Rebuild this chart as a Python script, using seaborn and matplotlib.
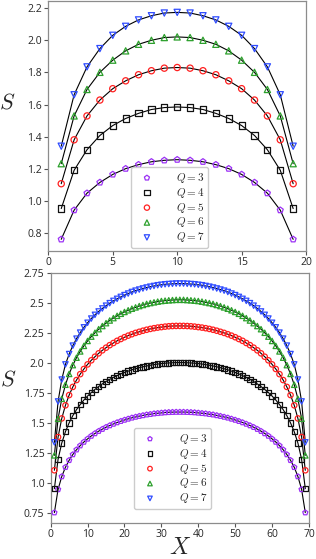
import pandas as pd
import matplotlib
matplotlib.use("Agg")
import matplotlib.pyplot as plt
import seaborn as sns

# ================================
# Data
# ================================
q_labels = [r"$Q=3$", r"$Q=4$", r"$Q=5$", r"$Q=6$", r"$Q=7$"]

# top panel: L = 20, X = 1..19
x_top = list(range(1, 20))
s_top_q3 = [0.759, 0.941, 1.047, 1.114, 1.164, 1.200, 1.225, 1.243, 1.252, 1.256,
            1.252, 1.243, 1.225, 1.200, 1.164, 1.114, 1.047, 0.941, 0.759]
s_top_q4 = [0.951, 1.190, 1.318, 1.407, 1.469, 1.513, 1.545, 1.569, 1.581, 1.585,
            1.581, 1.569, 1.545, 1.513, 1.469, 1.407, 1.318, 1.190, 0.951]
s_top_q5 = [1.106, 1.380, 1.529, 1.628, 1.699, 1.748, 1.786, 1.811, 1.827, 1.831,
            1.827, 1.811, 1.786, 1.748, 1.699, 1.628, 1.529, 1.380, 1.106]
s_top_q6 = [1.231, 1.529, 1.694, 1.801, 1.877, 1.935, 1.976, 2.001, 2.018, 2.022,
            2.018, 2.001, 1.976, 1.935, 1.877, 1.801, 1.694, 1.529, 1.231]
s_top_q7 = [1.340, 1.661, 1.835, 1.949, 2.032, 2.088, 2.128, 2.154, 2.171, 2.175,
            2.171, 2.154, 2.128, 2.088, 2.032, 1.949, 1.835, 1.661, 1.340]

# bottom panel: L = 70, X = 1..69
x_bot = list(range(1, 70))
s_bot_q3 = [0.756, 0.949, 1.056, 1.133, 1.191, 1.239, 1.279, 1.313, 1.343, 1.369,
            1.393, 1.414, 1.433, 1.450, 1.466, 1.480, 1.493, 1.505, 1.516, 1.526,
            1.535, 1.544, 1.551, 1.558, 1.564, 1.570, 1.574, 1.579, 1.582, 1.585,
            1.588, 1.590, 1.591, 1.592, 1.592,
            1.592, 1.591, 1.590, 1.588, 1.585, 1.582, 1.579, 1.574, 1.570, 1.564,
            1.558, 1.551, 1.544, 1.535, 1.526, 1.516, 1.505, 1.493, 1.480, 1.466,
            1.450, 1.433, 1.414, 1.393, 1.369, 1.343, 1.313, 1.279, 1.239, 1.191,
            1.133, 1.056, 0.949, 0.756]
s_bot_q4 = [0.955, 1.199, 1.334, 1.429, 1.502, 1.562, 1.612, 1.654, 1.692, 1.725,
            1.754, 1.780, 1.804, 1.826, 1.846, 1.864, 1.880, 1.895, 1.909, 1.921,
            1.932, 1.943, 1.952, 1.961, 1.968, 1.975, 1.981, 1.986, 1.991, 1.995,
            1.998, 2.000, 2.002, 2.003, 2.003,
            2.003, 2.002, 2.000, 1.998, 1.995, 1.991, 1.986, 1.981, 1.975, 1.968,
            1.961, 1.952, 1.943, 1.932, 1.921, 1.909, 1.895, 1.880, 1.864, 1.846,
            1.826, 1.804, 1.780, 1.754, 1.725, 1.692, 1.654, 1.612, 1.562, 1.502,
            1.429, 1.334, 1.199, 0.955]
s_bot_q5 = [1.108, 1.384, 1.539, 1.648, 1.733, 1.801, 1.858, 1.907, 1.950, 1.988,
            2.022, 2.052, 2.080, 2.105, 2.127, 2.148, 2.166, 2.184, 2.199, 2.214,
            2.227, 2.239, 2.250, 2.259, 2.268, 2.276, 2.283, 2.289, 2.294, 2.298,
            2.302, 2.305, 2.307, 2.308, 2.308,
            2.308, 2.307, 2.305, 2.302, 2.298, 2.294, 2.289, 2.283, 2.276, 2.268,
            2.259, 2.250, 2.239, 2.227, 2.214, 2.199, 2.184, 2.166, 2.148, 2.127,
            2.105, 2.080, 2.052, 2.022, 1.988, 1.950, 1.907, 1.858, 1.801, 1.733,
            1.648, 1.539, 1.384, 1.108]
s_bot_q6 = [1.232, 1.536, 1.702, 1.819, 1.909, 1.982, 2.044, 2.096, 2.142, 2.183,
            2.219, 2.251, 2.281, 2.307, 2.331, 2.353, 2.373, 2.392, 2.409, 2.424,
            2.438, 2.451, 2.462, 2.473, 2.482, 2.491, 2.498, 2.504, 2.510, 2.515,
            2.518, 2.521, 2.523, 2.525, 2.525,
            2.525, 2.523, 2.521, 2.518, 2.515, 2.510, 2.504, 2.498, 2.491, 2.482,
            2.473, 2.462, 2.451, 2.438, 2.424, 2.409, 2.392, 2.373, 2.353, 2.331,
            2.307, 2.281, 2.251, 2.219, 2.183, 2.142, 2.096, 2.044, 1.982, 1.909,
            1.819, 1.702, 1.536, 1.232]
s_bot_q7 = [1.340, 1.680, 1.862, 1.988, 2.074, 2.144, 2.202, 2.252, 2.296, 2.334,
            2.369, 2.400, 2.428, 2.453, 2.476, 2.497, 2.516, 2.533, 2.549, 2.564,
            2.577, 2.590, 2.601, 2.610, 2.619, 2.627, 2.634, 2.640, 2.646, 2.650,
            2.654, 2.656, 2.658, 2.660, 2.660,
            2.660, 2.658, 2.656, 2.654, 2.650, 2.646, 2.640, 2.634, 2.627, 2.619,
            2.610, 2.601, 2.590, 2.577, 2.564, 2.549, 2.533, 2.516, 2.497, 2.476,
            2.453, 2.428, 2.400, 2.369, 2.334, 2.296, 2.252, 2.202, 2.144, 2.074,
            1.988, 1.862, 1.680, 1.340]

top_ticks_y = [0.8, 1.0, 1.2, 1.4, 1.6, 1.8, 2.0, 2.2]
top_ticklabels_y = ["0.8", "1.0", "1.2", "1.4", "1.6", "1.8", "2.0", "2.2"]
top_ticks_x = [0, 5, 10, 15, 20]
bot_ticks_y = [0.75, 1.0, 1.25, 1.5, 1.75, 2.0, 2.25, 2.5, 2.75]
bot_ticklabels_y = ["0.75", "1.0", "1.25", "1.5", "1.75", "2.0", "2.25", "2.5", "2.75"]
bot_ticks_x = [0, 10, 20, 30, 40, 50, 60, 70]

colors = ["#9b30f5", "#111111", "#ff2020", "#2ca02c", "#2f4cff"]
markers = ["p", "s", "o", "^", "v"]

# ================================
# Styling
# ================================
sns.set_style("ticks")
plt.rcParams["font.family"] = ["Open Sans", "DejaVu Sans"]
plt.rcParams["mathtext.fontset"] = "cm"

fig = plt.figure(figsize=(3.16, 5.59), dpi=100)
ax_top = fig.add_axes([0.153, 0.5515, 0.8155, 0.4467])
ax_bot = fig.add_axes([0.1604, 0.0649, 0.8174, 0.4472])


def draw_panel(ax, x, series, msize):
    for lab, s, c, m in zip(q_labels, series, colors, markers):
        df = pd.DataFrame({"X": x, "S": s})
        sns.lineplot(data=df, x="X", y="S", ax=ax, color="black",
                     linewidth=0.8, legend=False, zorder=2)
        sns.scatterplot(data=df, x="X", y="S", ax=ax, marker=m, s=msize,
                        facecolors="none", edgecolor=c, linewidth=0.9,
                        label=lab, zorder=3)
    for sp in ax.spines.values():
        sp.set_color("#8c8c8c")
        sp.set_linewidth(0.9)
    ax.tick_params(axis="both", direction="out", length=3, width=0.8,
                   color="#555555", labelsize=7.5, pad=1.5)
    ax.set_xlabel("")
    ax.set_ylabel(r"$S$", fontsize=16, rotation=0)


def add_legend(ax, anchor):
    ax.legend(loc="lower left", bbox_to_anchor=anchor, borderaxespad=0,
              fontsize=8, labelspacing=0.08, handletextpad=1.5, borderpad=0.35,
              edgecolor="#cccccc", framealpha=1, handlelength=2.2,
              markerscale=0.85)


# ================================
# Top panel (L = 20)
# ================================
draw_panel(ax_top, x_top, [s_top_q3, s_top_q4, s_top_q5, s_top_q6, s_top_q7], 20)
ax_top.set_xlim(0, 20)
ax_top.set_ylim(0.688, 2.246)
ax_top.set_xticks(top_ticks_x)
ax_top.set_yticks(top_ticks_y)
ax_top.set_yticklabels(top_ticklabels_y)
ax_top.yaxis.set_label_coords(-0.16, 0.55)
add_legend(ax_top, (0.32, 0.01))

# ================================
# Bottom panel (L = 70)
# ================================
draw_panel(ax_bot, x_bot, [s_bot_q3, s_bot_q4, s_bot_q5, s_bot_q6, s_bot_q7], 15)
ax_bot.set_xlim(0, 70)
ax_bot.set_ylim(0.672, 2.75)
ax_bot.set_xticks(bot_ticks_x)
ax_bot.set_yticks(bot_ticks_y)
ax_bot.set_yticklabels(bot_ticklabels_y)
ax_bot.set_xlabel(r"$X$", fontsize=17, labelpad=-3)
ax_bot.yaxis.set_label_coords(-0.165, 0.53)
add_legend(ax_bot, (0.322, 0.054))

fig.savefig("out.png", dpi=100)
